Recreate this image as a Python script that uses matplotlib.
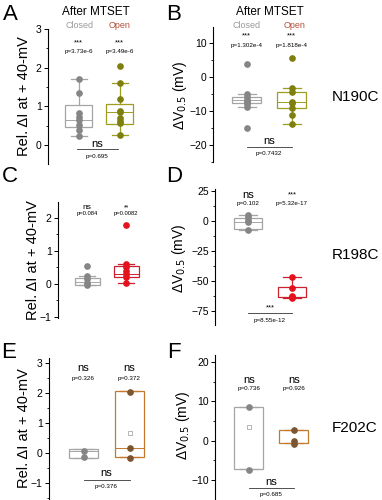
import matplotlib
matplotlib.use("Agg")
import matplotlib.pyplot as plt
import numpy as np
from matplotlib.ticker import MultipleLocator

# ---------------- data ----------------
groups = ["Closed", "Open"]
mutants = ["N190C", "R198C", "F202C"]

# box stats: (q1, median, q3, whisker_lo, whisker_hi)
A_closed_pts = [1.70, 1.35, 0.82, 0.73, 0.65, 0.53, 0.40, 0.24]
A_closed_box = [0.47, 0.66, 1.03, 0.24, 1.70]
A_open_pts = [2.05, 1.60, 1.18, 0.88, 0.85, 0.69, 0.62, 0.58, 0.26]
A_open_box = [0.54, 0.86, 1.06, 0.26, 1.60]
A_sig = ["***", "***"]
A_p = ["p=3.73e-6", "p=3.49e-6"]
A_cmp = ["ns", "p=0.695"]

B_closed_pts = [3.7, -5.1, -6.0, -6.8, -7.0, -7.5, -8.0, -8.7, -14.9]
B_closed_box = [-7.7, -6.8, -5.8, -8.7, -5.1]
B_open_pts = [5.5, -3.1, -4.5, -7.3, -7.7, -9.2, -11.2, -13.9]
B_open_box = [-9.2, -7.3, -4.5, -13.9, -3.1]
B_sig = ["***", "***"]
B_p = ["p=1.302e-4", "p=1.818e-4"]
B_cmp = ["ns", "p=0.7432"]

C_closed_pts = [0.55, 0.24, 0.14, 0.04, -0.04]
C_closed_box = [-0.03, 0.07, 0.17, -0.04, 0.24]
C_open_pts = [1.77, 0.60, 0.50, 0.40, 0.30, 0.20, 0.04]
C_open_box = [0.20, 0.30, 0.53, 0.04, 0.60]
C_sig = ["ns", "**"]
C_p = ["p=0.084", "p=0.0082"]

D_closed_pts = [5.0, 3.0, 1.0, -1.0, -7.5]
D_closed_box = [-6.9, -1.0, 2.8, -7.5, 5.0]
D_open_pts = [-47.0, -55.5, -62.5, -63.5, -64.5]
D_open_box = [-63.6, -63.0, -55.3, -64.5, -47.0]
D_sig = ["ns", "***"]
D_p = ["p=0.102", "p=5.32e-17"]
D_cmp = ["***", "p=8.55e-12"]

E_closed_pts = [0.07, -0.15]
E_closed_box = [-0.17, 0.05, 0.12, -0.17, 0.12]
E_open_pts = [2.04, 0.16, -0.16]
E_open_box = [-0.14, 0.18, 2.06, -0.14, 2.06]
E_open_mean = 0.66
E_sig = ["ns", "ns"]
E_p = ["p=0.326", "p=0.372"]
E_cmp = ["ns", "p=0.376"]

F_closed_pts = [8.6, -7.4]
F_closed_box = [-7.3, 8.6, 8.6, -7.3, 8.6]
F_closed_mean = 3.5
F_open_pts = [2.8, -0.2, -0.8]
F_open_box = [-0.7, -0.6, 2.8, -0.7, 2.8]
F_sig = ["ns", "ns"]
F_p = ["p=0.736", "p=0.926"]
F_cmp = ["ns", "p=0.685"]

# ---------------- style ----------------
W, H = 382, 500
fig = plt.figure(figsize=(W / 100, H / 100), dpi=100)
plt.rcParams['font.family'] = ['Liberation Sans', 'DejaVu Sans']

GRAY_PT = "#858585"
GRAY_BOX = "#a5a5a5"
OLIVE_PT = "#7f7f0f"
OLIVE_BOX = "#9e9e1e"
RED_PT = "#e3121c"
RED_BOX = "#cc2030"
BROWN_PT = "#7a5530"
BROWN_BOX = "#c4782e"


def px_axes(spine_x, top, bottom, unit):
    left = spine_x
    width = 2.5 * unit
    return fig.add_axes([left / W, 1 - bottom / H, width / W, (bottom - top) / H])


def draw_panel(ax, closed_pts, closed_box, open_pts, open_box, open_pt_c, open_box_c,
               ylim, major, minor):
    stats = []
    for box, lab in [(closed_box, groups[0]), (open_box, groups[1])]:
        q1, med, q3, lo, hi = box
        stats.append(dict(q1=q1, med=med, q3=q3, whislo=lo, whishi=hi, fliers=[], label=lab))
    for i, (st, bc) in enumerate(zip(stats, [GRAY_BOX, open_box_c])):
        ax.bxp([st], positions=[i + 1], widths=0.65, capwidths=0.4, showfliers=False,
               patch_artist=True,
               boxprops=dict(facecolor="none", edgecolor=bc, linewidth=0.9),
               medianprops=dict(color=bc, linewidth=0.7),
               whiskerprops=dict(color=bc, linewidth=0.9),
               capprops=dict(color=bc, linewidth=0.9))
    ax.plot(np.full(len(closed_pts), 1.0), closed_pts, 'o', color=GRAY_PT, ms=3.8, zorder=5)
    ax.plot(np.full(len(open_pts), 2.0), open_pts, 'o', color=open_pt_c, ms=3.8, zorder=5)
    ax.set_xlim(0.25, 2.75)
    ax.set_ylim(*ylim)
    ax.yaxis.set_major_locator(MultipleLocator(major))
    ax.yaxis.set_minor_locator(MultipleLocator(minor))
    for s in ["top", "right", "bottom"]:
        ax.spines[s].set_visible(False)
    ax.spines["left"].set_linewidth(0.8)
    ax.set_xticks([])
    ax.tick_params(axis='y', which='major', direction='out', length=3, width=0.7,
                   labelsize=7.5, pad=1.5)
    ax.tick_params(axis='y', which='minor', direction='out', length=1.5, width=0.6)
    ax.patch.set_alpha(0)


def annotate(ax, sig, p, ysig, yp, sig_sizes=(5.5, 5.5)):
    for i in range(2):
        ax.text(i + 1, ysig, sig[i], ha='center', va='center',
                fontsize=(8 if sig[i] == "ns" else sig_sizes[i]))
        ax.text(i + 1, yp, p[i], ha='center', va='center', fontsize=4.5)


def compare(ax, cmp, yline, ysig, yp, x0=1.0, x1=2.0):
    ax.plot([x0, x1], [yline, yline], color="#333333", lw=0.6, clip_on=False)
    ax.text((x0 + x1) / 2, ysig, cmp[0], ha='center', va='center',
            fontsize=(8 if cmp[0] == "ns" else 5.5), clip_on=False)
    ax.text((x0 + x1) / 2, yp, cmp[1], ha='center', va='center', fontsize=4.5, clip_on=False)


def ftext(x, y, s, **kw):
    fig.text(x / W, 1 - y / H, s, **kw)


# ---------------- panels ----------------
axA = px_axes(48, 29, 164, 41)
draw_panel(axA, A_closed_pts, A_closed_box, A_open_pts, A_open_box, OLIVE_PT, OLIVE_BOX,
           (-0.49, 3.0), 1, 0.5)
annotate(axA, A_sig, A_p, 2.64, 2.42)
compare(axA, A_cmp, -0.10, 0.03, -0.29, 0.95, 1.95)

axB = px_axes(213, 27, 162, 45)
draw_panel(axB, B_closed_pts, B_closed_box, B_open_pts, B_open_box, OLIVE_PT, OLIVE_BOX,
           (-25, 14.7), 10, 5)
annotate(axB, B_sig, B_p, 12.0, 9.4)
compare(axB, B_cmp, -20.6, -18.8, -22.6)

axC = px_axes(58, 202, 318, 39)
draw_panel(axC, C_closed_pts, C_closed_box, C_open_pts, C_open_box, RED_PT, RED_BOX,
           (-1.03, 2.48), 1, 0.5)
for i in range(2):
    axC.text(i + 1, 2.3, C_sig[i], ha='center', va='center', fontsize=6 if i == 0 else 5)
    axC.text(i + 1, 2.14, C_p[i], ha='center', va='center', fontsize=4.2)

axD = px_axes(215, 189, 325, 44)
draw_panel(axD, D_closed_pts, D_closed_box, D_open_pts, D_open_box, RED_PT, RED_BOX,
           (-86.7, 26.7), 25, 12.5)
annotate(axD, D_sig, D_p, 21.5, 14.5)
compare(axD, D_cmp, -76.7, -72.5, -83.0)

axE = px_axes(49, 358, 500, 46)
draw_panel(axE, E_closed_pts, E_closed_box, E_open_pts, E_open_box, BROWN_PT, BROWN_BOX,
           (-1.57, 3.17), 1, 0.5)
axE.plot([2], [E_open_mean], 's', mfc='none', mec='#999999', ms=2.5, mew=0.5)
annotate(axE, E_sig, E_p, 2.83, 2.5)
compare(axE, E_cmp, -0.9, -0.68, -1.13)

axF = px_axes(215, 355, 500, 45)
draw_panel(axF, F_closed_pts, F_closed_box, F_open_pts, F_open_box, BROWN_PT, BROWN_BOX,
           (-15.1, 21.8), 10, 5)
axF.plot([1], [F_closed_mean], 's', mfc='none', mec='#999999', ms=2.5, mew=0.5)
annotate(axF, F_sig, F_p, 15.5, 13.4)
compare(axF, F_cmp, -12.0, -10.4, -13.8)

# ---------------- figure texts ----------------
for x, y, s in [(10, 14, "A"), (174, 14, "B"), (10, 177, "C"), (174, 177, "D"),
                (9, 352, "E"), (174, 352, "F")]:
    ftext(x, y, s, fontsize=16, ha='center', va='center')

ftext(96, 12, "After MTSET", fontsize=8.5, ha='center', va='center')
ftext(270, 12, "After MTSET", fontsize=8.5, ha='center', va='center')
for xc, xo in [(80, 120), (247, 295)]:
    ftext(xc, 25, groups[0], fontsize=6.5, color="#9a9a9a", ha='center', va='center')
    ftext(xo, 25, groups[1], fontsize=6.5, color="#b5503a", ha='center', va='center')

ylab_I = "Rel. ΔI at + 40-mV"
ylab_V = r"ΔV$_{0.5}$ (mV)"
ftext(24, 96, ylab_I, fontsize=10.5, rotation=90, ha='center', va='center')
ftext(33, 260, ylab_I, fontsize=10.5, rotation=90, ha='center', va='center')
ftext(24, 428, ylab_I, fontsize=10.5, rotation=90, ha='center', va='center')
ftext(180, 95, ylab_V, fontsize=10, rotation=90, ha='center', va='center')
ftext(179, 258, ylab_V, fontsize=10, rotation=90, ha='center', va='center')
ftext(183, 425, ylab_V, fontsize=10, rotation=90, ha='center', va='center')

for y, s in [(97, mutants[0]), (255, mutants[1]), (428, mutants[2])]:
    ftext(332, y, s, fontsize=11, ha='left', va='center')

fig.savefig("out.png", dpi=100)
